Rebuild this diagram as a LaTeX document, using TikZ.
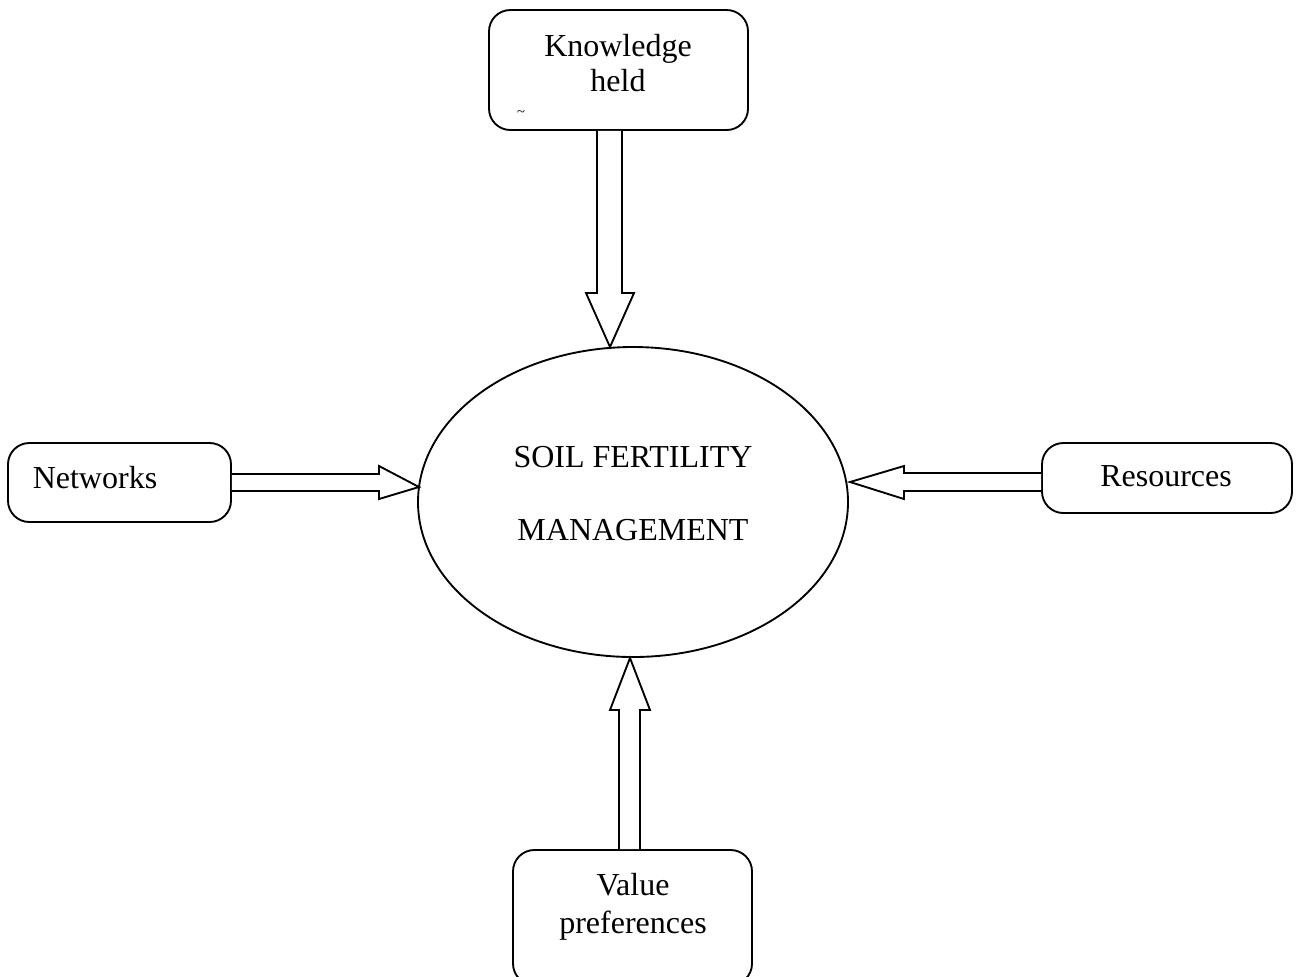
\documentclass[tikz,border=0pt]{standalone}
\usepackage{fontspec}
\setmainfont{Liberation Serif}
\usetikzlibrary{shapes.geometric,calc}
\begin{document}
\begin{tikzpicture}[x=0.75pt,y=-0.75pt,line width=1.4pt,
  box/.style={draw,rounded corners=16pt,inner sep=0pt},
  lbl/.style={font=\fontsize{24}{26}\selectfont,align=center,inner sep=0pt},
  blk/.style={draw,line join=miter,fill=white}]
\useasboundingbox (0,0) rectangle (1298,976);
\clip (0,0) rectangle (1298,976);
% boxes
\node[box,minimum width=194.25pt,minimum height=90pt] (kh) at (618.5,70) {};
\node[box,minimum width=167.25pt,minimum height=59.25pt] (nw) at (119.5,482.5) {};
\node[box,minimum width=187.5pt,minimum height=52.5pt] (rs) at (1167,478) {};
\node[box,minimum width=179.25pt,minimum height=101.25pt] (vp) at (632.5,917.5) {};
\node[draw,ellipse,inner sep=0pt,minimum width=322.5pt,minimum height=232.5pt] (sfm) at (633,502) {};
% texts
\node[lbl] (khT) at (618,63) {Knowledge\\held};
\node[font=\fontsize{11}{11}\selectfont,inner sep=0pt] (khM) at (521,113) {\textasciitilde};
\node[lbl] (nwT) at (95,478) {Networks};
\node[lbl] (rsT) at (1166,476) {Resources};
\node[lbl,font=\fontsize{24}{28.5}\selectfont] (vpT) at (633,907) {Value\\preferences};
\node[lbl] (sfm1) at (633,457) {SOIL FERTILITY};
\node[lbl] (sfm2) at (633,530) {MANAGEMENT};
% block arrows
\draw[blk] (597,0 |- kh.south) -- (597,293) -- (586,293) -- (610,347) -- (634,293) -- (622,293) -- (622,0 |- kh.south);
\draw[blk] (nw.east |- 0,474) -- (379,474) -- (379,466) -- (419,487) -- (379,499) -- (379,491) -- (nw.east |- 0,491);
\draw[blk] (rs.west |- 0,473) -- (904,473) -- (904,466) -- (850,482) -- (904,499) -- (904,491) -- (rs.west |- 0,491);
\draw[blk] (619,0 |- vp.north) -- (619,710) -- (610,710) -- (630,658) -- (650,710) -- (640,710) -- (640,0 |- vp.north);
\end{tikzpicture}
\end{document}
